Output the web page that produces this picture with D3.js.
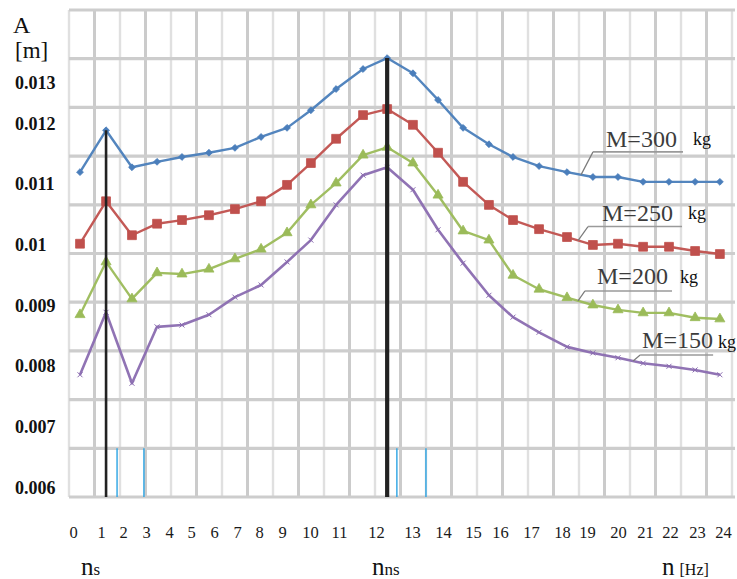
<!DOCTYPE html>
<html><head><meta charset="utf-8">
<script src="https://cdn.jsdelivr.net/npm/d3@7"></script>
<style>
html,body{margin:0;padding:0;background:#fff;}
svg{display:block;font-family:"Liberation Serif","Times New Roman",serif;}
</style></head><body>
<svg id="chart" width="737" height="579"></svg>
<script>
// ---------------- DATA ----------------
// excitation frequency n [Hz] of each measured point
const freqs = [0.25,1.23,2.39,3.48,4.59,5.78,6.91,8.09,9.18,10.03,10.9,11.65,12.31,13.03,13.84,14.67,15.59,16.42,17.26,18.2,19.19,20,20.93,21.96,22.93,23.88];
// amplitude A [m] for each mass
const m300 = [0.01119,0.01188,0.01127,0.01136,0.01144,0.01151,0.01159,0.01177,0.01192,0.01221,0.01256,0.01289,0.01307,0.01282,0.01238,0.01192,0.01165,0.01144,0.01129,0.01119,0.01111,0.01111,0.01103,0.01103,0.01103,0.01103];
const m250 = [0.01001,0.01071,0.01015,0.01034,0.01040,0.01048,0.01058,0.01071,0.01098,0.01134,0.01174,0.01213,0.01223,0.01197,0.01151,0.01103,0.01065,0.01040,0.01025,0.01012,0.00999,0.01001,0.00996,0.00996,0.00989,0.00984];
const m200 = [0.00884,0.00971,0.00910,0.00953,0.00951,0.00959,0.00976,0.00992,0.01019,0.01065,0.01101,0.01147,0.01160,0.01134,0.01081,0.01022,0.01007,0.00949,0.00926,0.00912,0.00900,0.00892,0.00887,0.00887,0.00879,0.00877];
const m150 = [0.00785,0.00888,0.00771,0.00864,0.00867,0.00884,0.00913,0.00933,0.00971,0.01007,0.01065,0.01114,0.01127,0.01090,0.01024,0.00969,0.00916,0.00880,0.00855,0.00831,0.00821,0.00813,0.00804,0.00799,0.00793,0.00785];
const seriesNames = ["M=300","M=250","M=200","M=150"];
const xTicks = d3.range(0, 25);
const yTicks = [0.006,0.007,0.008,0.009,0.01,0.011,0.012,0.013];
const nsIndex = 1, nnsIndex = 12;          // resonance points marked by black lines
const bandLines = [1.73, 2.91, 12.58, 13.45]; // thin blue markers near the axis

// ---------------- LAYOUT / STYLE ----------------
const svg = d3.select("#chart");
const xTickPx = [73,101,123,146,169,191,214,237,259,282,310,339,376,412,443,473,500,531,562,587,618,645,670,697,723];
const x = d3.scaleLinear().domain(xTicks).range(xTickPx);
const y = d3.scaleLinear().domain([0.006, 0.012]).range([487, 123]);
const gx = d3.scaleLinear().domain([0, 26]).range([69, 732]);
const gy = d3.scaleLinear().domain([0, 10]).range([10, 497]);

const styles = [
  {data: m300, color: "#4a7ebb", marker: "diamond"},
  {data: m250, color: "#c0504d", marker: "square"},
  {data: m200, color: "#9bbb59", marker: "triangle"},
  {data: m150, color: "#8a6bb0", marker: "cross"}
];
// legend annotation: anchor frequency on the curve + pixel offsets
const legendLayout = [
  {at: 18.76, lead: [12,-23], lineEnd: 102, text: [25,-28], kg: [112,-30]},
  {at: 18.64, lead: [10,-14], lineEnd: 104, text: [24,-20], kg: [110,-22]},
  {at: 18.64, lead: [7,-10],  lineEnd: 94,  text: [19,-17], kg: [102,-18]},
  {at: 20.56, lead: [7,-6],   lineEnd: 80,  text: [9,-13],  kg: [85,-13]}
];

// ---------------- GRID ----------------
const grid = svg.append("g");
grid.selectAll("line.v").data(d3.range(0, 27)).join("line")
  .attr("x1", d => gx(d)).attr("x2", d => gx(d))
  .attr("y1", gy(0)).attr("y2", gy(10))
  .attr("stroke", d => d % 2 ? "#cbcbcb" : "#e0e0e0")
  .attr("stroke-width", d => d % 2 ? 3 : 2.4);
grid.selectAll("line.h").data(d3.range(0, 11)).join("line")
  .attr("x1", gx(0)).attr("x2", gx(26) + 3)
  .attr("y1", d => gy(d)).attr("y2", d => gy(d))
  .attr("stroke", "#cdcdcd").attr("stroke-width", 3.2);

// thin blue lines near the bottom
svg.append("g").selectAll("line").data(bandLines).join("line")
  .attr("x1", d => x(d)).attr("x2", d => x(d))
  .attr("y1", gy(9)).attr("y2", gy(10))
  .attr("stroke", "#2aa3e3").attr("stroke-width", 1.4);

// ---------------- SERIES ----------------
const line = d3.line().x((d, i) => x(freqs[i])).y(d => y(d));
const symbolFor = {
  diamond: d3.symbol().type(d3.symbolDiamond2 || d3.symbolCircle).size(30)(),
  square: d3.symbol().type(d3.symbolSquare).size(78)(),
  triangle: d3.symbol().type(d3.symbolTriangle).size(44)(),
  cross: "M-2.5,-2.5L2.5,2.5M-2.5,2.5L2.5,-2.5"
};
styles.forEach(s => {
  const g = svg.append("g");
  g.append("path").datum(s.data)
    .attr("d", line).attr("fill", "none")
    .attr("stroke", s.color).attr("stroke-width", s.marker === "cross" ? 2.6 : 2.4)
    .attr("stroke-linejoin", "round").attr("opacity", 0.95);
  g.selectAll("path.m").data(s.data).join("path")
    .attr("transform", (d, i) => `translate(${x(freqs[i])},${y(d)})`)
    .attr("d", symbolFor[s.marker])
    .attr("fill", s.marker === "cross" ? "none" : s.color)
    .attr("stroke", s.color)
    .attr("stroke-width", s.marker === "cross" ? 1 : 0.8);
});

// ---------------- RESONANCE LINES ----------------
svg.append("line")
  .attr("x1", x(freqs[nsIndex])).attr("x2", x(freqs[nsIndex]))
  .attr("y1", y(m300[nsIndex])).attr("y2", gy(10))
  .attr("stroke", "#222").attr("stroke-width", 2.6);
svg.append("line")
  .attr("x1", x(freqs[nnsIndex])).attr("x2", x(freqs[nnsIndex]))
  .attr("y1", y(m300[nnsIndex])).attr("y2", gy(10))
  .attr("stroke", "#222").attr("stroke-width", 4.2);

// ---------------- LEGEND ANNOTATIONS ----------------
const seriesData = [m300, m250, m200, m150];
legendLayout.forEach((L, k) => {
  // curve value at the anchor frequency (linear interpolation of the data)
  const i = d3.bisectLeft(freqs, L.at);
  const t = (L.at - freqs[i - 1]) / (freqs[i] - freqs[i - 1]);
  const v = seriesData[k][i - 1] + t * (seriesData[k][i] - seriesData[k][i - 1]);
  const ax = x(L.at), ay = y(v);
  const g = svg.append("g");
  g.append("line").attr("x1", ax).attr("y1", ay)
    .attr("x2", ax + L.lead[0]).attr("y2", ay + L.lead[1])
    .attr("stroke", "#7a7a7a").attr("stroke-width", 1.2);
  g.append("line").attr("x1", ax + L.lead[0]).attr("y1", ay + L.lead[1])
    .attr("x2", ax + L.lineEnd).attr("y2", ay + L.lead[1])
    .attr("stroke", "#9a9a9a").attr("stroke-width", 1.6);
  g.append("text").attr("x", ax + L.text[0]).attr("y", ay + L.text[1])
    .attr("font-size", 24).attr("fill", "#3c3c3c").text(seriesNames[k]);
  g.append("text").attr("x", ax + L.kg[0]).attr("y", ay + L.kg[1])
    .attr("font-size", 18).attr("fill", "#111").text("kg");
});

// ---------------- AXES ----------------
const yAxisG = svg.append("g").attr("transform", "translate(15,0)")
  .call(d3.axisLeft(y).tickValues(yTicks).tickSize(0).tickFormat(d => String(d)));
yAxisG.attr("font-family", null);
yAxisG.select(".domain").remove();
yAxisG.selectAll("text")
  .attr("x", 0).attr("dy", "0.35em").attr("text-anchor", "start")
  .attr("transform", d => d === 0.013 ? "translate(0,20)" : null)
  .style("font-family", "'Liberation Serif','Times New Roman',serif")
  .style("font-weight", "bold").style("font-size", "18px").attr("fill", "#111");

const xAxisG = svg.append("g").attr("transform", "translate(0,538)")
  .call(d3.axisBottom(x).tickValues(xTicks).tickSize(0).tickFormat(d3.format("d")));
xAxisG.attr("font-family", null);
xAxisG.select(".domain").remove();
xAxisG.selectAll("text")
  .attr("y", 0).attr("dy", 0)
  .style("font-family", "'Liberation Serif','Times New Roman',serif")
  .style("font-size", "16.5px").attr("fill", "#1a1a1a");

// axis titles
svg.append("text").attr("x", 13).attr("y", 33).attr("font-size", 24).attr("fill", "#111").text("A");
svg.append("text").attr("x", 15).attr("y", 58).attr("font-size", 23).attr("fill", "#111").text("[m]");

const nsT = svg.append("text").attr("x", 81).attr("y", 575).attr("fill", "#111");
nsT.append("tspan").attr("font-size", 25).text("n");
nsT.append("tspan").attr("font-size", 17).text("s");
const nnsT = svg.append("text").attr("x", 372).attr("y", 575).attr("fill", "#111");
nnsT.append("tspan").attr("font-size", 25).text("n");
nnsT.append("tspan").attr("font-size", 17).text("ns");
const nT = svg.append("text").attr("x", 662).attr("y", 575).attr("fill", "#111");
nT.append("tspan").attr("font-size", 25).text("n");
nT.append("tspan").attr("font-size", 16).attr("dx", 5).text("[Hz]");
</script>
</body></html>
